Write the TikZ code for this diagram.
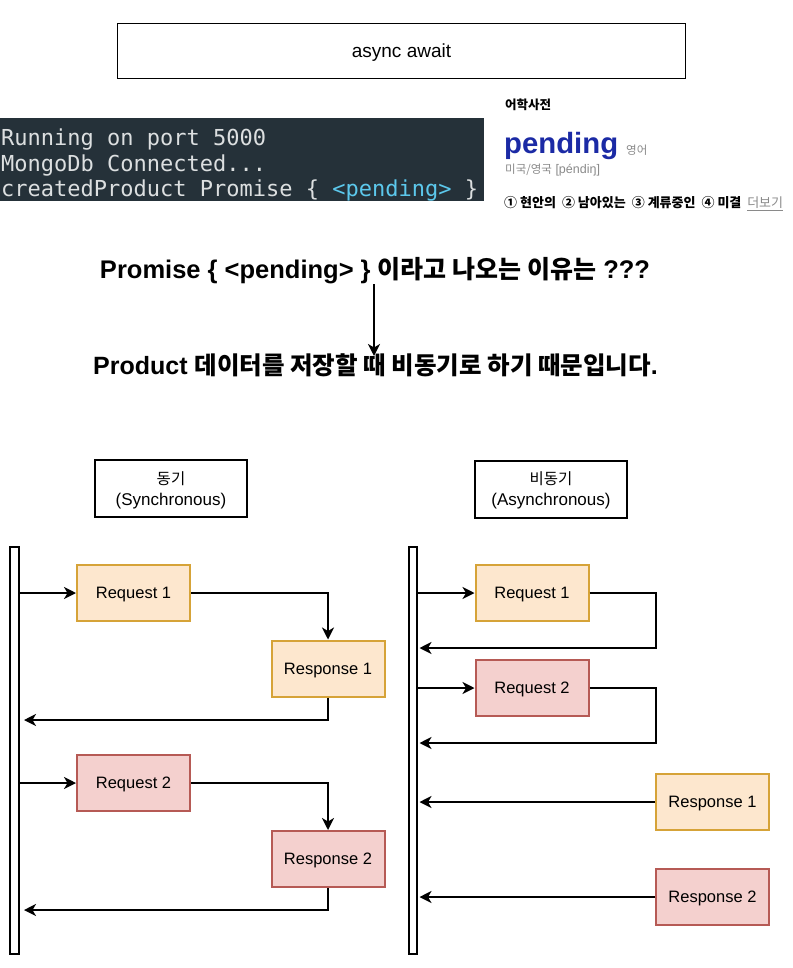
\documentclass[tikz,border=0pt]{standalone}
\usepackage{fontspec}
\setmainfont{Liberation Sans}
\newfontfamily\kr{Noto Sans CJK KR}
\newfontfamily\mono{DejaVu Sans Mono}
\usetikzlibrary{arrows.meta}
\definecolor{orfill}{HTML}{FDE7CE}
\definecolor{ordraw}{HTML}{D6A338}
\definecolor{rdfill}{HTML}{F4D0CE}
\definecolor{rddraw}{HTML}{B65A55}
\definecolor{termbg}{HTML}{253139}
\definecolor{termtxt}{HTML}{DCDFE0}
\definecolor{termcy}{HTML}{5CC8EC}
\definecolor{dictblue}{HTML}{1B2AA5}
\definecolor{dictgrey}{HTML}{8A8A8A}
\newcommand\fsz[2]{\fontsize{#1}{#2}\selectfont}
\begin{document}
\begin{tikzpicture}[x=1pt,y=-1pt,
  titlebox/.style={draw=black,line width=0.8pt,minimum width=568,minimum height=55,inner sep=0,text height=13.7pt,text depth=0pt,font=\fsz{19}{22}},
  headbox/.style={draw=black,line width=2pt,minimum width=152,minimum height=57,inner sep=0,align=center,text depth=0pt,font=\fsz{17}{21}},
  orbox/.style={draw=ordraw,fill=orfill,line width=2pt,minimum width=113,minimum height=56,inner sep=0,text height=11.9pt,text depth=0pt,font=\fsz{16.5}{19}},
  rdbox/.style={orbox,draw=rddraw,fill=rdfill},
  lifebar/.style={draw=black,fill=white,line width=2pt,minimum height=407,inner sep=0},
  conn/.style={line width=2pt,-{Stealth[length=12pt,width=12pt,inset=3.5pt]}},
  termline/.style={anchor=base west,inner sep=0,text=termtxt,font=\mono\fsz{22}{26}},
  plain/.style={anchor=base west,inner sep=0}
]
\useasboundingbox (0,0) rectangle (792,968);
\fill[white] (0,0) rectangle (792,968);

% title
\node[titlebox] (title) at (401.5,51) {async await};

% terminal
\node[fill=termbg,minimum width=484,minimum height=83,anchor=north west,inner sep=0] (term) at (0,118) {};
\node[termline] (t1) at (1,146) {Running on port 5000};
\node[termline] (t2) at (1,171.5) {MongoDb Connected...};
\node[termline] (t3) at (1,197) {createdProduct Promise \{ \textcolor{termcy}{<pending>} \}};

% dictionary
\node[plain,font=\kr\fsz{12.5}{15}] (dict) at (505,110) {\bfseries 어학사전};
\node[plain,font=\fsz{29.3}{31},text=dictblue] (pend) at (504,154) {\bfseries pending};
\node[plain,font=\kr\fsz{11.5}{14},text=dictgrey] (eng) at (626,155) {영어};
\node[plain,font=\fsz{12.5}{14},text=dictgrey] (pron) at (505,174) {{\kr\fsz{11.5}{14}미국/영국} [péndiŋ]};
\node[plain,font=\kr\fsz{13}{16}] (mean) at (504,208) {{\bfseries ① 현안의 \ ② 남아있는 \ ③ 계류중인 \ ④ 미결} \ {\color{dictgrey}\underline{더보기}}};

% question / answer
\node[anchor=base,inner sep=0,font=\fsz{25.5}{30}] (q) at (375,278) {\bfseries Promise \{ <pending> \} {\kr\fsz{25}{30}\bfseries 이라고 나오는 이유는} ???};
\node[anchor=base,inner sep=0,font=\fsz{25}{30}] (ans) at (375.5,374) {\bfseries Product {\kr\fsz{24.5}{30}\bfseries 데이터를 저장할 때 비동기로 하기 때문입니다}.};
\coordinate (qa1) at (374,284);
\coordinate (qa2) at (374,356);
\draw[conn] (qa1) -- (qa2);

% synchronous
\node[headbox] (hs) at (171,488.5) {{\kr\fsz{15.5}{21}동기}\\(Synchronous)};
\node[lifebar,minimum width=9] (barL) at (14.5,750.5) {};
\node[orbox] (Lreq1) at (133.5,593) {Request 1};
\node[orbox] (Lresp1) at (328,668.5) {Response 1};
\node[rdbox] (Lreq2) at (133.5,783) {Request 2};
\node[rdbox] (Lresp2) at (328,859) {Response 2};
\coordinate (Lr1) at (21,720);
\coordinate (Lr2) at (21,910);
\draw[conn] (barL.east |- Lreq1.west) -- (Lreq1.west);
\draw[conn] (Lreq1.east) -| (Lresp1.north);
\draw[conn,shorten >=3pt] (Lresp1.south) |- (Lr1);
\draw[conn] (barL.east |- Lreq2.west) -- (Lreq2.west);
\draw[conn] (Lreq2.east) -| (Lresp2.north);
\draw[conn,shorten >=3pt] (Lresp2.south) |- (Lr2);

% asynchronous
\node[headbox] (ha) at (551,489) {{\kr\fsz{15.5}{21}비동기}\\(Asynchronous)};
\node[lifebar,minimum width=8] (barR) at (413,750.5) {};
\node[orbox] (Rreq1) at (532,593) {Request 1};
\node[rdbox] (Rreq2) at (532,688) {Request 2};
\node[orbox] (Rresp1) at (712.5,802) {Response 1};
\node[rdbox] (Rresp2) at (712.5,897) {Response 2};
\coordinate (Rc1) at (656,593);
\coordinate (Rc2) at (656,688);
\coordinate (Rr1) at (418,648);
\coordinate (Rr2) at (418,743);
\draw[conn] (barR.east |- Rreq1.west) -- (Rreq1.west);
\draw[conn,shorten >=1.5pt] (Rreq1.east) -- (Rc1) |- (Rr1);
\draw[conn] (barR.east |- Rreq2.west) -- (Rreq2.west);
\draw[conn,shorten >=1.5pt] (Rreq2.east) -- (Rc2) |- (Rr2);
\draw[conn,shorten >=1.5pt] (Rresp1.west) -- (barR.east |- Rresp1.west);
\draw[conn,shorten >=1.5pt] (Rresp2.west) -- (barR.east |- Rresp2.west);
\end{tikzpicture}
\end{document}
